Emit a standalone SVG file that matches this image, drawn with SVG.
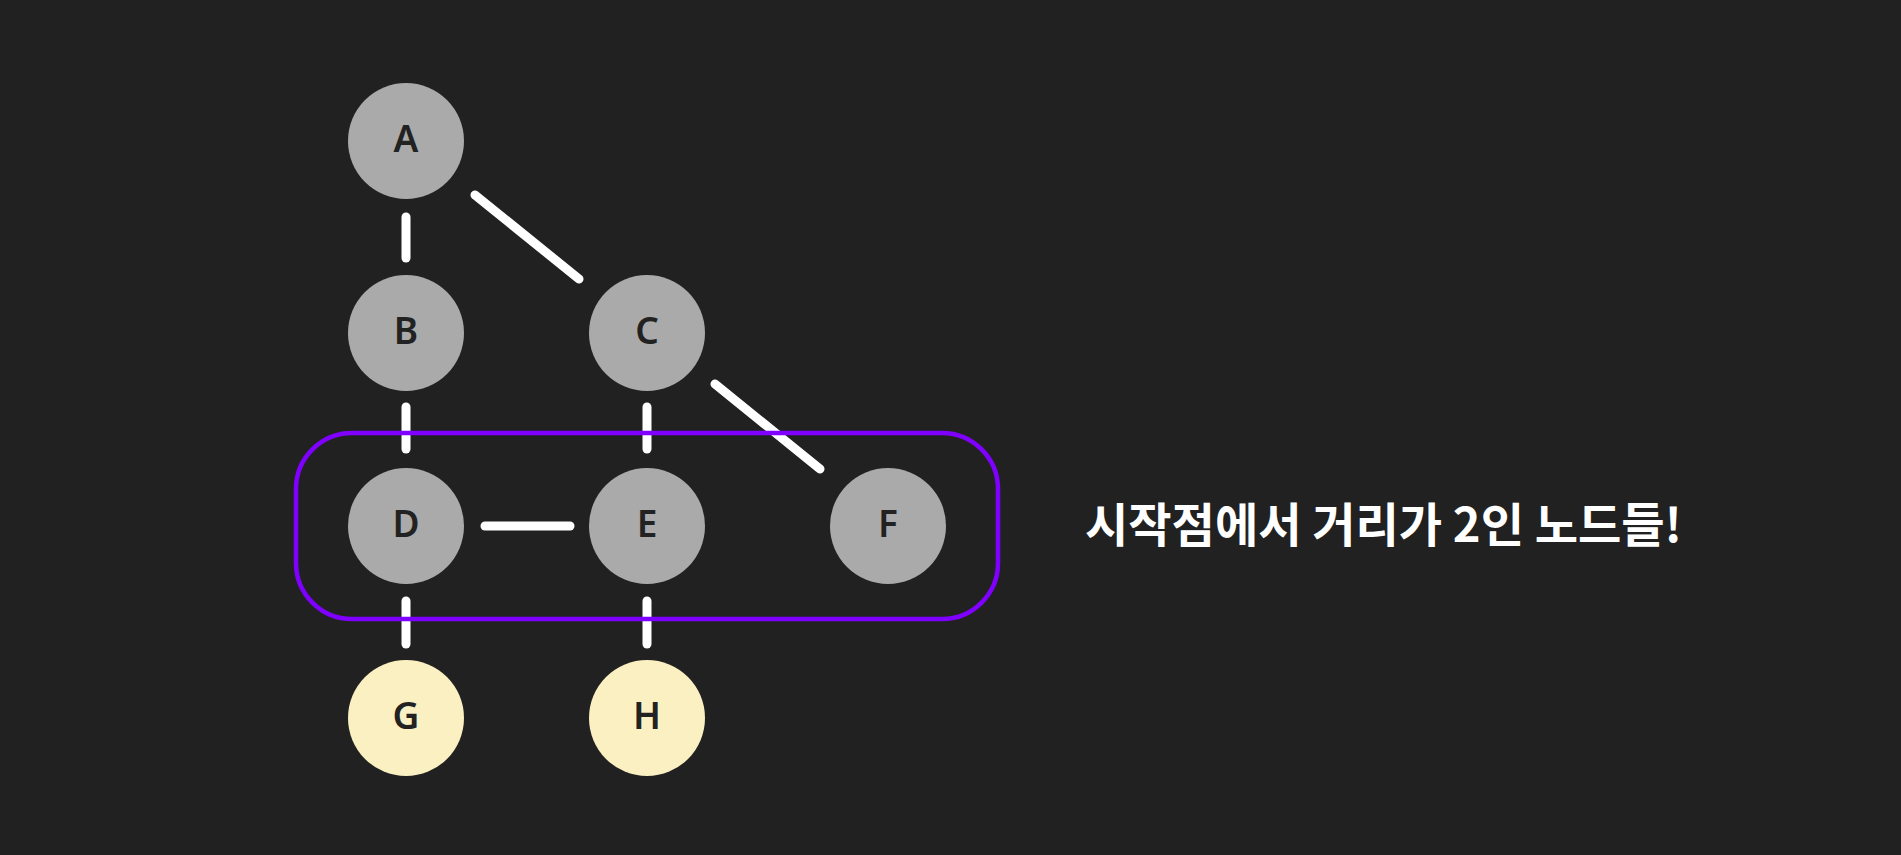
<svg xmlns="http://www.w3.org/2000/svg" width="1901" height="855" viewBox="0 0 1901 855">
<style>
.bg{fill:#212121}
.n{fill:#aaaaaa}
.y{fill:#faf0c2}
.lbl{font-family:"Noto Sans","Open Sans","DejaVu Sans",sans-serif;font-size:37px;font-weight:600;fill:#222222;text-anchor:middle}
.e{stroke:#ffffff;stroke-width:9;stroke-linecap:round;fill:none}
.grp{fill:none;stroke:#8000ff;stroke-width:4.5}
.cap{font-family:"Noto Sans CJK KR","Noto Sans",sans-serif;font-size:47px;font-weight:700;fill:#ffffff}
</style>
<rect class="bg" x="0" y="0" width="1901" height="855"/>
<g id="connectors">
<line class="e" x1="406" y1="217" x2="406" y2="258"/>
<line class="e" x1="475" y1="195" x2="579" y2="279"/>
<line class="e" x1="406" y1="407" x2="406" y2="449"/>
<line class="e" x1="647" y1="407" x2="647" y2="449"/>
<line class="e" x1="715" y1="384" x2="820" y2="469"/>
<line class="e" x1="485" y1="526" x2="570" y2="526"/>
<line class="e" x1="406" y1="601" x2="406" y2="644"/>
<line class="e" x1="647" y1="601" x2="647" y2="644"/>
</g>
<g id="group-distance2">
<rect class="grp" x="296" y="433" width="702" height="186" rx="56" ry="56"/>
</g>
<g id="node-A"><circle class="n" cx="406" cy="141" r="58"/><text class="lbl" x="406" y="152">A</text></g>
<g id="node-B"><circle class="n" cx="406" cy="333" r="58"/><text class="lbl" x="406" y="344">B</text></g>
<g id="node-C"><circle class="n" cx="647" cy="333" r="58"/><text class="lbl" x="647" y="344">C</text></g>
<g id="node-D"><circle class="n" cx="406" cy="526" r="58"/><text class="lbl" x="406" y="537">D</text></g>
<g id="node-E"><circle class="n" cx="647" cy="526" r="58"/><text class="lbl" x="647" y="537">E</text></g>
<g id="node-F"><circle class="n" cx="888" cy="526" r="58"/><text class="lbl" x="888" y="537">F</text></g>
<g id="node-G"><circle class="y" cx="406" cy="718" r="58"/><text class="lbl" x="406" y="729">G</text></g>
<g id="node-H"><circle class="y" cx="647" cy="718" r="58"/><text class="lbl" x="647" y="729">H</text></g>
<g id="caption"><text class="cap" x="1085" y="542" textLength="597" lengthAdjust="spacingAndGlyphs">시작점에서 거리가 2인 노드들!</text></g>
</svg>
